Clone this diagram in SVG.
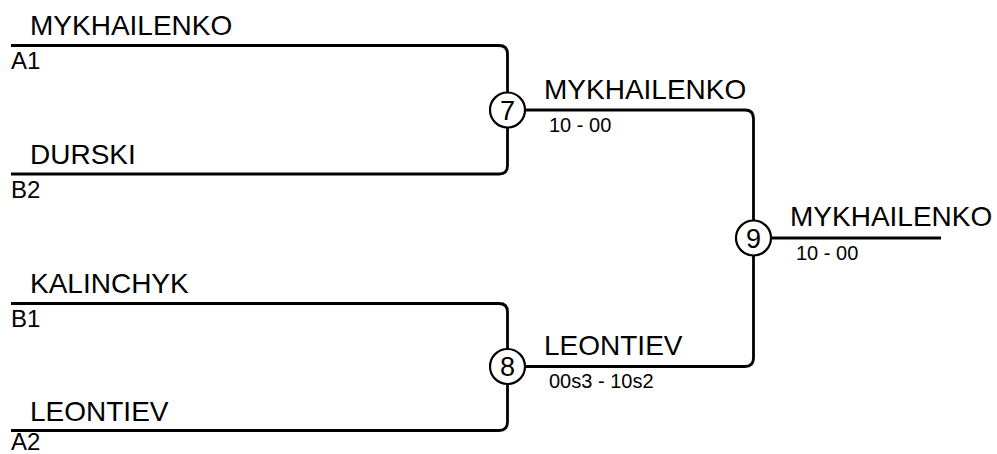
<svg xmlns="http://www.w3.org/2000/svg" width="997" height="454" viewBox="0 0 997 454">
<style>
.ln{fill:none;stroke:#000;stroke-width:2.8;stroke-linejoin:round}
.nm{font-family:"Liberation Sans",Arial,sans-serif;font-size:28px;fill:#000}
.sd{font-family:"Liberation Sans",Arial,sans-serif;font-size:24px;fill:#000}
.sc{font-family:"Liberation Sans",Arial,sans-serif;font-size:20px;fill:#000}
.cn{font-family:"Liberation Sans",Arial,sans-serif;font-size:27px;fill:#000;text-anchor:middle}
.cc{fill:#fff;stroke:#000;stroke-width:2.2}
</style>
<rect width="997" height="454" fill="#fff"/>
<g id="connectors">
<path class="ln" d="M11,45.5 H499 Q507.5,45.5 507.5,54 V165.5 Q507.5,174 499,174 H11"/>
<path class="ln" d="M11,303.5 H499 Q507.5,303.5 507.5,312 V422 Q507.5,430.5 499,430.5 H11"/>
<path class="ln" d="M507.5,110 H745 Q753.5,110 753.5,118.5 V358 Q753.5,366.5 745,366.5 H507.5"/>
<path class="ln" d="M753.5,238 H941"/>
</g>
<g id="entry-a1"><text class="nm" x="30" y="35">MYKHAILENKO</text><text class="sd" x="11" y="69">A1</text></g>
<g id="entry-b2"><text class="nm" x="30" y="164">DURSKI</text><text class="sd" x="11" y="198">B2</text></g>
<g id="entry-b1"><text class="nm" x="30" y="293">KALINCHYK</text><text class="sd" x="11" y="327">B1</text></g>
<g id="entry-a2"><text class="nm" x="30" y="421">LEONTIEV</text><text class="sd" x="11" y="450">A2</text></g>
<g id="match-7"><circle class="cc" cx="507.5" cy="110" r="17.5"/><text class="cn" x="507.5" y="119.5">7</text>
<text class="nm" x="544" y="99">MYKHAILENKO</text><text class="sc" x="549" y="132">10 - 00</text></g>
<g id="match-8"><circle class="cc" cx="507.5" cy="366.5" r="17.5"/><text class="cn" x="507.5" y="376">8</text>
<text class="nm" x="544" y="355">LEONTIEV</text><text class="sc" x="549" y="388">00s3 - 10s2</text></g>
<g id="match-9"><circle class="cc" cx="753.5" cy="238" r="17.5"/><text class="cn" x="753.5" y="247.5">9</text>
<text class="nm" x="790" y="226">MYKHAILENKO</text><text class="sc" x="796" y="260">10 - 00</text></g>
</svg>
